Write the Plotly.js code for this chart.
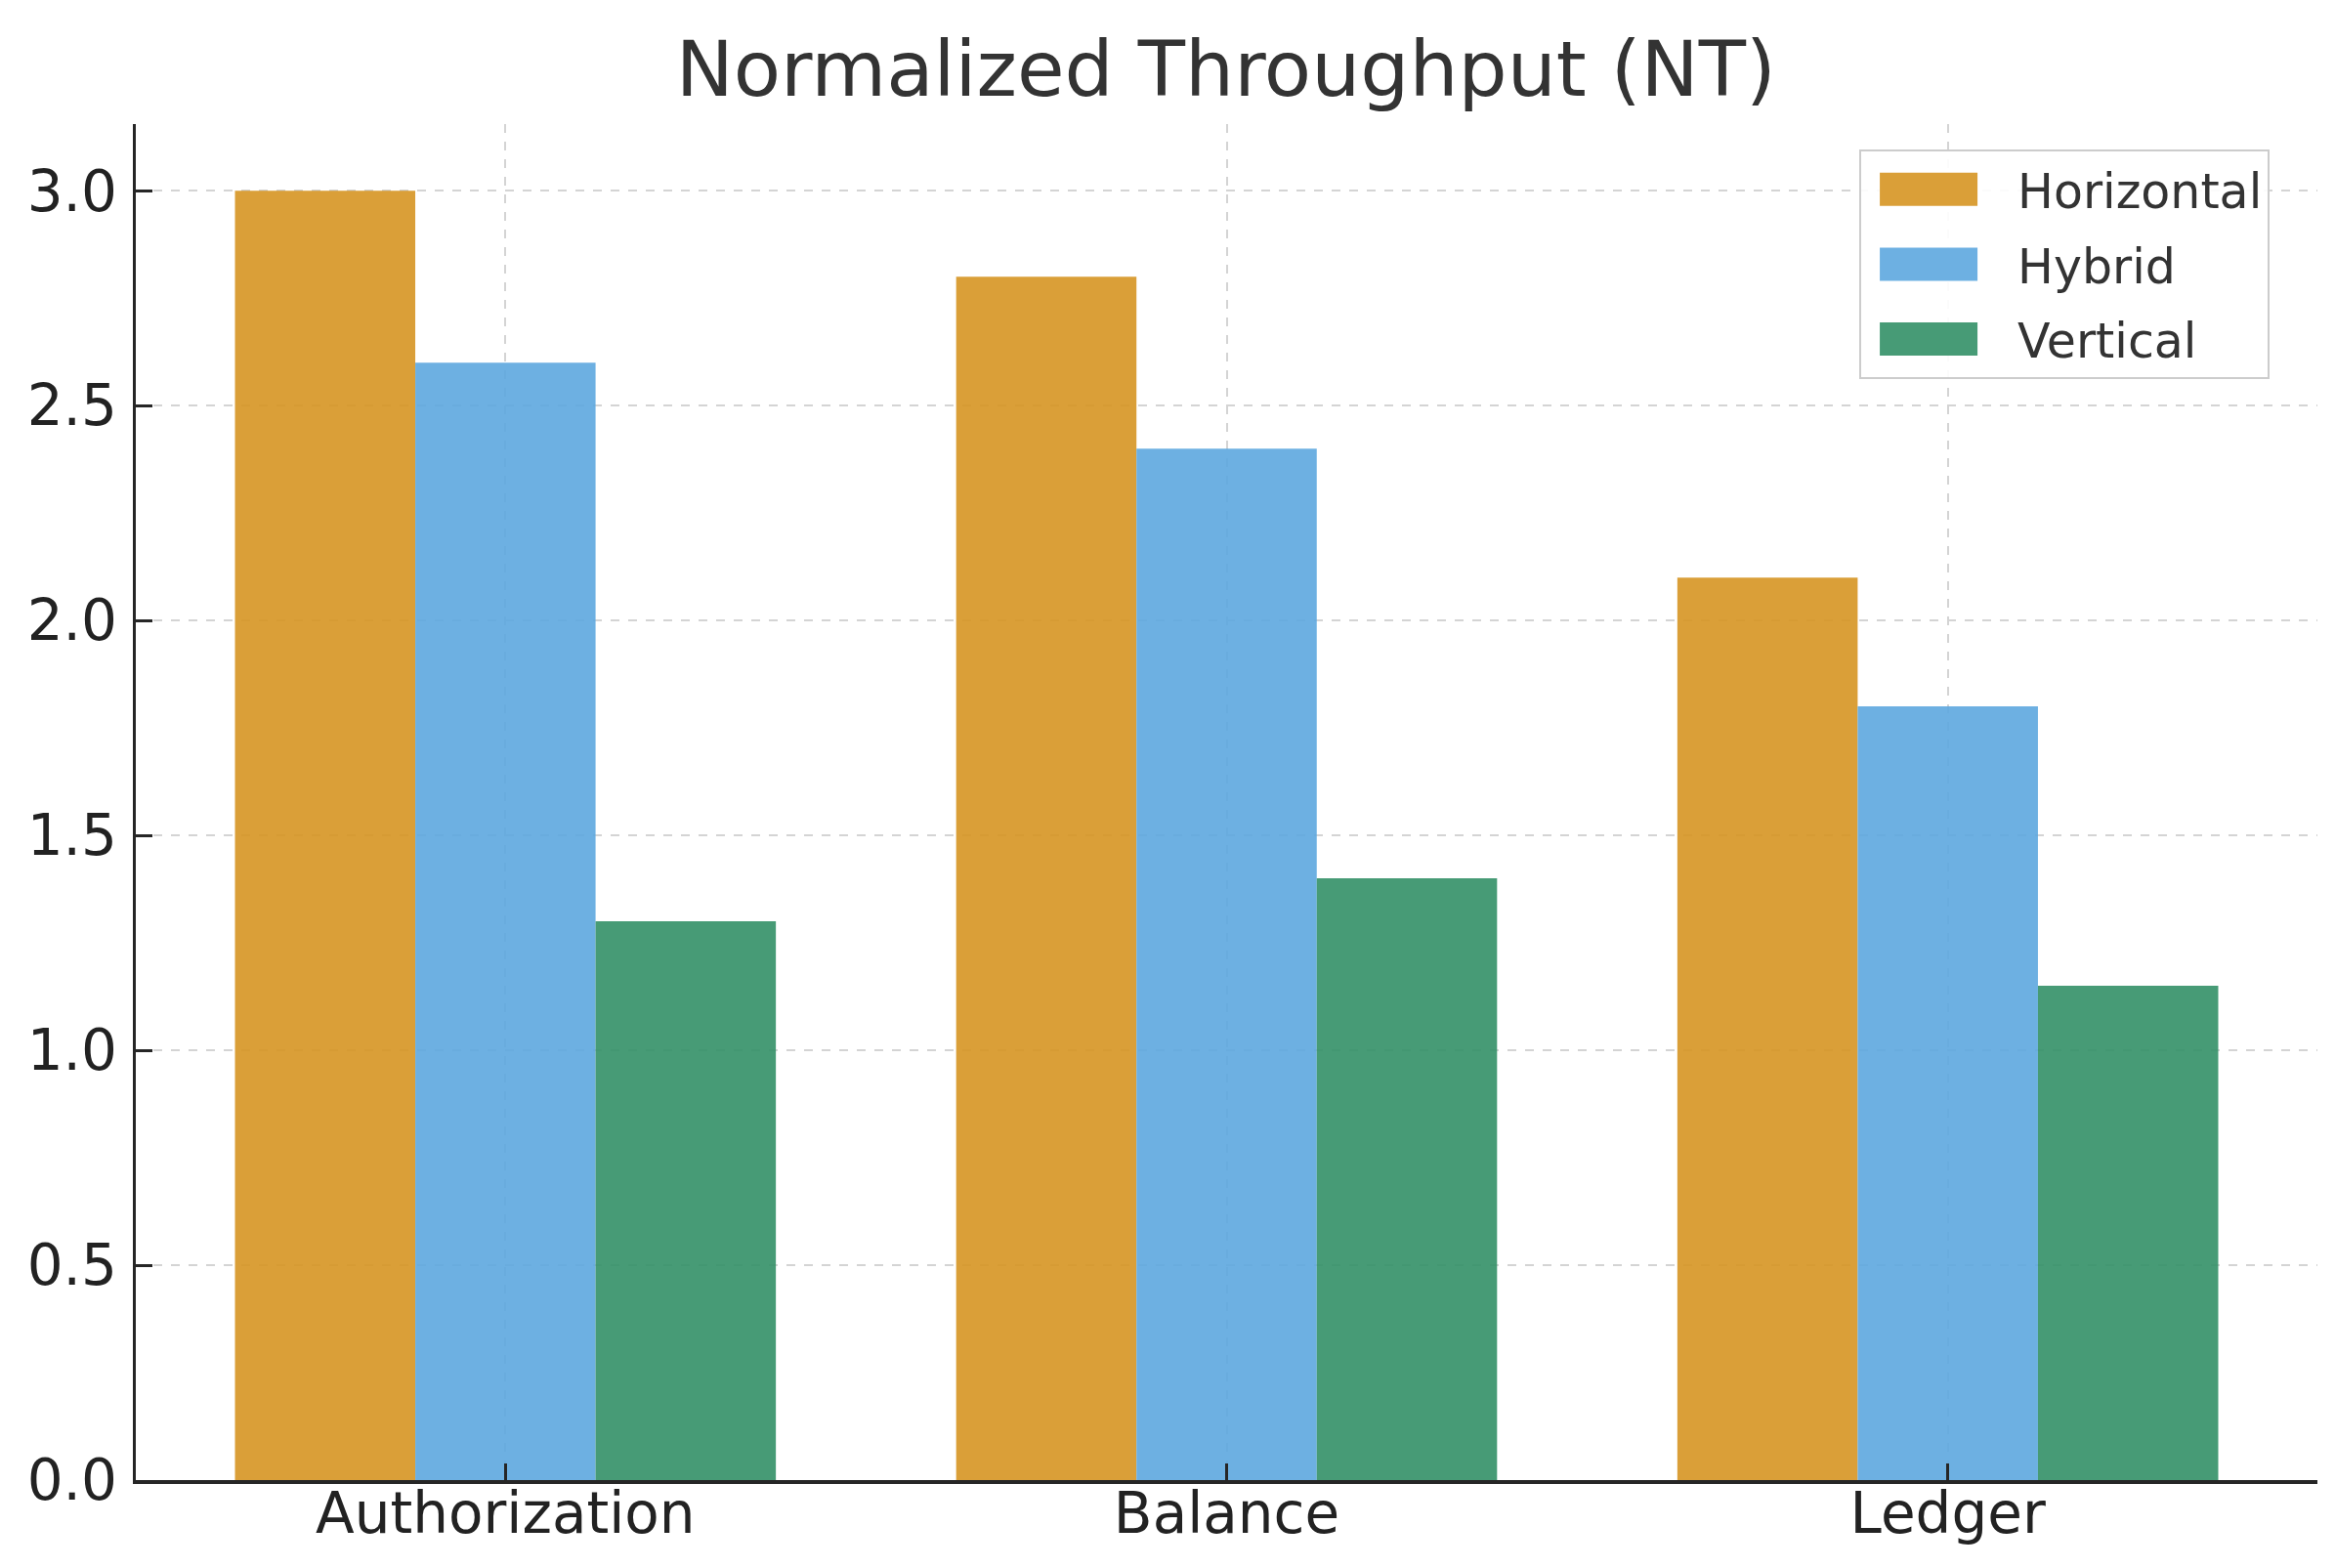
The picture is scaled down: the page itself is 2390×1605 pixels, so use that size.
<!DOCTYPE html>
<html>
<head>
<meta charset="utf-8">
<script src="https://cdn.plot.ly/plotly-3.0.1.min.js"></script>
<style>
  html, body { margin: 0; padding: 0; background: #ffffff; }
  #chart { width: 2390px; height: 1605px; }
</style>
</head>
<body>
<div id="chart"></div>
<script>
// ---- Data ----
const categories = ["Authorization", "Balance", "Ledger"];
const seriesNames = ["Horizontal", "Hybrid", "Vertical"];
const horizontalValues = [3.0, 2.8, 2.1];
const hybridValues = [2.6, 2.4, 1.8];
const verticalValues = [1.3, 1.4, 1.15];
const yTickValues = [0, 0.5, 1.0, 1.5, 2.0, 2.5, 3.0];
const yTickLabels = ["0.0", "0.5", "1.0", "1.5", "2.0", "2.5", "3.0"];
const chartTitle = "Normalized Throughput (NT)";

// ---- Styles ----
const seriesColors = ["rgba(214,149,34,0.9)", "rgba(93,167,223,0.9)", "rgba(51,144,103,0.9)"];
const seriesValues = [horizontalValues, hybridValues, verticalValues];
const FONT = "DejaVu Sans, Verdana, sans-serif";

const traces = seriesNames.map((name, i) => ({
  type: "bar",
  name: name,
  x: categories,
  y: seriesValues[i],
  legendgroup: name,
  marker: { color: seriesColors[i], line: { width: 0 } },
  hoverinfo: "x+y+name"
}));

const layout = {
  width: 2390,
  height: 1605,
  paper_bgcolor: "#ffffff",
  plot_bgcolor: "#ffffff",
  margin: { l: 139, r: 18, t: 127, b: 90, pad: 0 },
  font: { family: FONT, color: "#262626" },
  title: {
    text: chartTitle,
    font: { family: FONT, size: 79, color: "#333333" },
    x: 0.525, xanchor: "center",
    yref: "container", y: 1 - 70 / 1605, yanchor: "middle"
  },
  barmode: "group",
  bargap: 0.25,
  bargroupgap: 0,
  showlegend: true,
  legend: {
    x: 0.79, xanchor: "left",
    y: 0.981, yanchor: "top",
    bgcolor: "rgba(255,255,255,0.9)",
    bordercolor: "#cccccc",
    borderwidth: 2,
    font: { family: FONT, size: 49, color: "#333333" },
    itemwidth: 150,
    tracegroupgap: 10,
    traceorder: "grouped"
  },
  xaxis: {
    type: "category",
    range: [-0.5125, 2.5125],
    showline: true, linecolor: "#262626", linewidth: 3.5, mirror: false,
    ticks: "inside", ticklen: 17, tickwidth: 3, tickcolor: "#262626",
    tickfont: { family: FONT, size: 58, color: "#222222" },
    ticklabelstandoff: -19,
    showgrid: true, gridcolor: "#d4d4d4", gridwidth: 2, griddash: "dash",
    zeroline: false, fixedrange: true
  },
  yaxis: {
    range: [0, 3.155],
    tickmode: "array",
    tickvals: yTickValues,
    ticktext: yTickLabels,
    showline: true, linecolor: "#262626", linewidth: 3.5, mirror: false,
    ticks: "inside", ticklen: 17, tickwidth: 3, tickcolor: "#262626",
    tickfont: { family: FONT, size: 58, color: "#222222" },
    ticklabelstandoff: 4,
    showgrid: true, gridcolor: "#d4d4d4", gridwidth: 2, griddash: "dash",
    zeroline: false, fixedrange: true
  }
};

function bigSwatches() {
  document.querySelectorAll("#chart .legend .legendpoints path").forEach(p => {
    p.setAttribute("d", "M39,17H-61V-17H39Z");
  });
}

const gd = document.getElementById("chart");
Plotly.newPlot(gd, traces, layout, { displayModeBar: false, staticPlot: true }).then(() => {
  bigSwatches();
  gd.on && gd.on("plotly_afterplot", bigSwatches);
});
</script>
</body>
</html>
